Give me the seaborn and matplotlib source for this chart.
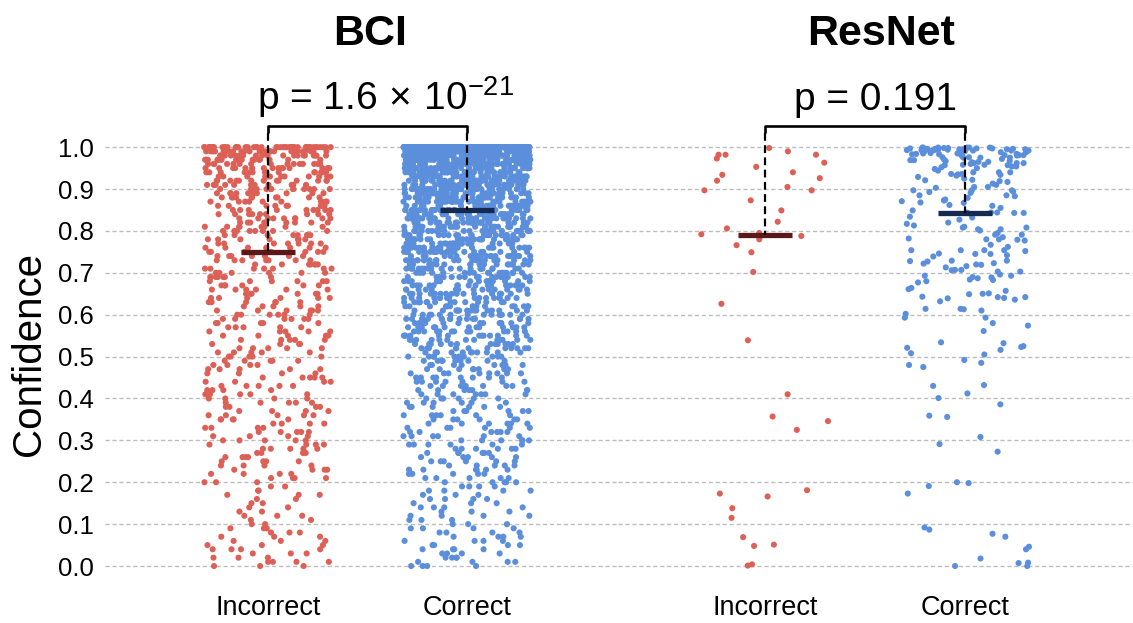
import numpy as np
import pandas as pd
import seaborn as sns
import matplotlib
matplotlib.use("Agg")
import matplotlib.pyplot as plt

# ---------------- data ----------------
groups = ["Incorrect", "Correct"]
panel_titles = ["BCI", "ResNet"]
p_labels = [r"p = 1.6$\,\times\,$10$^{-21}$", "p = 0.191"]

# confidence levels (0.00 ... 1.00) used for the BCI frequency tables
conf_levels = [0.00, 0.01, 0.02, 0.03, 0.04, 0.05, 0.06, 0.07, 0.08, 0.09,
               0.10, 0.11, 0.12, 0.13, 0.14, 0.15, 0.16, 0.17, 0.18, 0.19,
               0.20, 0.21, 0.22, 0.23, 0.24, 0.25, 0.26, 0.27, 0.28, 0.29,
               0.30, 0.31, 0.32, 0.33, 0.34, 0.35, 0.36, 0.37, 0.38, 0.39,
               0.40, 0.41, 0.42, 0.43, 0.44, 0.45, 0.46, 0.47, 0.48, 0.49,
               0.50, 0.51, 0.52, 0.53, 0.54, 0.55, 0.56, 0.57, 0.58, 0.59,
               0.60, 0.61, 0.62, 0.63, 0.64, 0.65, 0.66, 0.67, 0.68, 0.69,
               0.70, 0.71, 0.72, 0.73, 0.74, 0.75, 0.76, 0.77, 0.78, 0.79,
               0.80, 0.81, 0.82, 0.83, 0.84, 0.85, 0.86, 0.87, 0.88, 0.89,
               0.90, 0.91, 0.92, 0.93, 0.94, 0.95, 0.96, 0.97, 0.98, 0.99,
               1.00]

bci_incorrect_counts = [3, 4, 3, 3, 4, 3, 3, 3, 3, 3,
                        2, 2, 3, 2, 2, 2, 2, 3, 2, 2,
                        3, 4, 4, 4, 4, 4, 4, 4, 5, 4,
                        5, 4, 5, 4, 4, 5, 5, 4, 4, 5,
                        4, 5, 4, 5, 4, 5, 4, 5, 4, 5,
                        5, 5, 5, 4, 5, 5, 5, 5, 5, 6,
                        6, 6, 5, 6, 6, 6, 6, 6, 6, 7,
                        6, 7, 7, 7, 7, 7, 7, 7, 7, 8,
                        8, 8, 8, 9, 9, 9, 9, 10, 10, 10,
                        12, 12, 13, 13, 14, 15, 16, 18, 21, 26,
                        50]

bci_correct_counts = [4, 4, 4, 4, 4, 4, 4, 4, 4, 4,
                      3, 3, 4, 3, 4, 3, 4, 3, 4, 4,
                      5, 5, 5, 6, 5, 6, 5, 6, 6, 6,
                      6, 6, 6, 6, 6, 6, 6, 6, 6, 6,
                      6, 7, 7, 7, 7, 8, 8, 8, 8, 9,
                      10, 11, 12, 12, 13, 13, 14, 14, 15, 16,
                      14, 15, 15, 16, 16, 16, 16, 17, 17, 18,
                      19, 20, 21, 21, 22, 22, 23, 23, 24, 25,
                      26, 27, 28, 29, 30, 31, 32, 33, 34, 35,
                      36, 38, 40, 42, 44, 46, 50, 55, 65, 84,
                      300]

resnet_incorrect = [0.998, 0.990, 0.982, 0.982, 0.982, 0.973, 0.963, 0.953,
                    0.940, 0.934, 0.926, 0.920, 0.905, 0.897, 0.897, 0.873,
                    0.849, 0.822, 0.806, 0.795, 0.792, 0.788, 0.780, 0.766,
                    0.749, 0.702, 0.626, 0.539, 0.410, 0.357, 0.346, 0.325,
                    0.181, 0.173, 0.166, 0.138, 0.115, 0.069, 0.051, 0.048,
                    0.004, 0.001]

resnet_correct = [
    0.000, 0.000, 0.007, 0.008, 0.018, 0.040, 0.046, 0.070, 0.077, 0.087,
    0.092, 0.173, 0.191, 0.198, 0.200, 0.273, 0.291, 0.308, 0.356, 0.359,
    0.386, 0.401, 0.412, 0.430, 0.432, 0.475, 0.480, 0.485, 0.492, 0.505,
    0.508, 0.516, 0.521, 0.525, 0.523, 0.532, 0.534, 0.561, 0.574, 0.580,
    0.593, 0.593, 0.602, 0.610, 0.614, 0.613, 0.614, 0.632, 0.636, 0.639,
    0.642, 0.643, 0.649, 0.650, 0.651, 0.640, 0.642, 0.657, 0.661, 0.664,
    0.677, 0.680, 0.683, 0.684, 0.689, 0.687, 0.690, 0.693, 0.693, 0.696,
    0.703, 0.703, 0.706, 0.707, 0.707, 0.713, 0.716, 0.719, 0.720, 0.722,
    0.723, 0.728, 0.727, 0.729, 0.729, 0.739, 0.742, 0.745, 0.745, 0.746,
    0.752, 0.754, 0.754, 0.754, 0.754, 0.762, 0.767, 0.777, 0.779, 0.780,
    0.780, 0.782, 0.785, 0.791, 0.791, 0.795,
    0.801, 0.804, 0.804, 0.808, 0.808, 0.810, 0.813, 0.817, 0.820, 0.827,
    0.832, 0.834,
    0.839, 0.843, 0.844, 0.844, 0.844, 0.843, 0.849, 0.855, 0.860, 0.862,
    0.867, 0.868, 0.871, 0.873, 0.873, 0.879, 0.875, 0.883, 0.885, 0.885,
    0.891, 0.893, 0.894, 0.897, 0.897, 0.897, 0.903, 0.905, 0.905, 0.910,
    0.913, 0.917, 0.919, 0.921, 0.922, 0.925, 0.929, 0.932, 0.934, 0.935,
    0.936, 0.936, 0.940, 0.940, 0.940, 0.944, 0.948, 0.952, 0.954, 0.954,
    0.957, 0.957, 0.960, 0.962, 0.962, 0.962, 0.964, 0.967, 0.967, 0.970,
    0.972, 0.976, 0.976, 0.979, 0.980, 0.983, 0.983, 0.984, 0.984, 0.986,
    0.987, 0.988, 0.988, 0.991, 0.991, 0.992, 0.992, 0.992, 0.994, 0.994,
    0.996, 0.996, 0.996, 0.998, 0.998,
    0.999, 0.999, 0.999, 0.999, 0.999, 0.999, 0.997, 0.997, 0.997, 0.997,
    0.995, 0.995, 0.995, 0.995, 0.993, 0.993, 0.993, 0.990, 0.990, 0.990,
    0.985, 0.985, 0.985, 0.981, 0.981, 0.981, 0.975, 0.975, 0.975, 0.969,
    0.969, 0.965, 0.965, 0.958, 0.958, 0.950]

# ---------------- style ----------------
point_colors = {"Incorrect": "#DD6057", "Correct": "#5B8EDB"}
median_colors = {"Incorrect": "#5A1818", "Correct": "#142A50"}

sns.set_theme(style="white")
plt.rcParams["font.family"] = ["Liberation Sans", "DejaVu Sans"]
plt.rcParams["mathtext.fontset"] = "custom"
plt.rcParams["mathtext.rm"] = "Liberation Sans"
plt.rcParams["mathtext.it"] = "Liberation Sans:italic"
plt.rcParams["mathtext.bf"] = "Liberation Sans:bold"
for key in ["text.color", "axes.labelcolor", "xtick.color", "ytick.color"]:
    plt.rcParams[key] = "black"

np.random.seed(7)

W, H = 1133, 623
fig = plt.figure(figsize=(W / 100, H / 100), dpi=100)
ax_bottom = 1 - 574.4 / H
ax_height = (574.4 - 134.6) / H
ax1 = fig.add_axes([105 / W, ax_bottom, (618 - 105) / W, ax_height])
ax2 = fig.add_axes([618 / W, ax_bottom, (1133 - 618) / W, ax_height], sharey=ax1)

bci_df = pd.DataFrame({
    "group": ["Incorrect"] * sum(bci_incorrect_counts) + ["Correct"] * sum(bci_correct_counts),
    "conf": np.concatenate([np.repeat(conf_levels, bci_incorrect_counts),
                            np.repeat(conf_levels, bci_correct_counts)]),
})
resnet_df = pd.DataFrame({
    "group": ["Incorrect"] * len(resnet_incorrect) + ["Correct"] * len(resnet_correct),
    "conf": resnet_incorrect + resnet_correct,
})

xlims = [(-0.819, 1.759), (-0.735, 1.84)]
title_x = [370, 881]
ptext_x = [0.59, 0.55]

for ax, df, title, ptxt, xl, tx, px in zip([ax1, ax2], [bci_df, resnet_df], panel_titles,
                                         p_labels, xlims, title_x, ptext_x):
    sns.stripplot(data=df, x="group", y="conf", hue="group", order=groups,
                  hue_order=groups, palette=point_colors, jitter=0.32, size=4.4,
                  linewidth=0, legend=False, ax=ax, zorder=3)
    meds = [np.median(df.loc[df["group"] == g, "conf"]) for g in groups]
    for i, (g, m) in enumerate(zip(groups, meds)):
        ax.hlines(m, i - 0.135, i + 0.135, color=median_colors[g], lw=3.8, zorder=6)
        ax.plot([i, i], [1.035, m], ls=(0, (3.5, 2.0)), color="black", lw=1.6,
                zorder=7, clip_on=False)
    ax.plot([0, 0, 1, 1], [1.035, 1.05, 1.05, 1.035], color="black", lw=1.9,
            clip_on=False, zorder=7, solid_capstyle="butt")
    ax.text(px, 1.088, ptxt, ha="center", va="baseline", fontsize=28,
            clip_on=False)
    fig.text(tx / W, 1 - 45 / H, title, ha="center", va="baseline",
             fontsize=31, fontweight="bold")

    ax.set_xlim(*xl)
    ax.set_ylim(-0.02, 1.03)
    ax.set_yticks([0.0, 0.1, 0.2, 0.3, 0.4, 0.5, 0.6, 0.7, 0.8, 0.9, 1.0])
    ax.yaxis.grid(True, color="#BDBDBD", ls=(0, (3, 2)), lw=1.0, zorder=0)
    ax.xaxis.grid(False)
    ax.set_axisbelow(True)
    for s in ax.spines.values():
        s.set_visible(False)
    ax.set_xlabel("")
    ax.tick_params(axis="x", length=0, pad=15, labelsize=19.5)
    ax.tick_params(axis="y", length=0, pad=8, labelsize=18.5)

ax1.set_ylabel("Confidence", fontsize=29, labelpad=7)
ax2.set_ylabel("")
ax2.tick_params(axis="y", labelleft=False)

fig.savefig("out.png", dpi=100)
